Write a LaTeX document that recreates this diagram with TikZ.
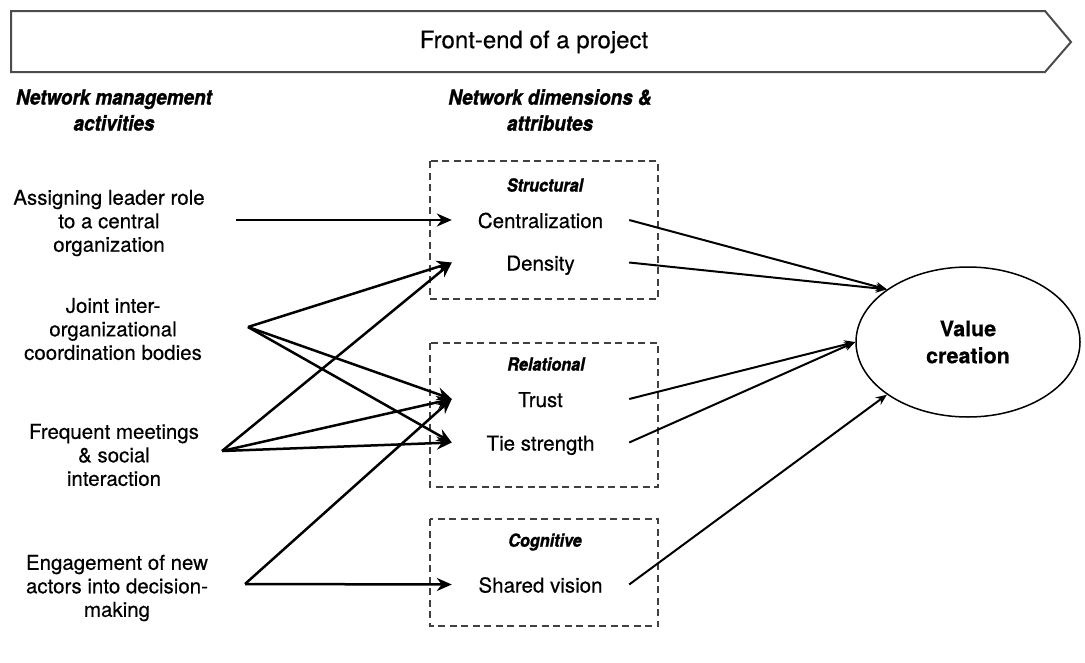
\documentclass[tikz,border=0pt]{standalone}
\usepackage{fontspec}
\setmainfont[FakeBold=0.4]{TeX Gyre Heros}
\newfontfamily\hdrfont[FakeStretch=0.9,FakeBold=1.2]{TeX Gyre Heros}
\usetikzlibrary{arrows.meta,shapes.geometric}

\begin{document}
\begin{tikzpicture}[x=1pt,y=-1pt,
  banner/.style={draw=black!70,line width=2pt,line join=miter},
  bannertext/.style={font=\fontsize{24}{28}\selectfont,inner sep=0pt},
  hdr/.style={font=\hdrfont\bfseries\itshape\fontsize{21}{26}\selectfont,inner sep=0pt},
  grp/.style={font=\hdrfont\bfseries\itshape\fontsize{18}{20}\selectfont,inner sep=0pt},
  lbl/.style={align=center,font=\fontsize{20.5}{23.5}\selectfont,inner sep=0pt},
  item/.style={minimum width=177pt,inner sep=0pt,text height=17pt,text depth=1pt,
               font=\fontsize{20.5}{24}\selectfont},
  dashbox/.style={draw=black!75,line width=1.5pt,dash pattern=on 7pt off 4.5pt},
  link/.style={line width=2.5pt,-{Stealth[length=15pt,width=13pt]}},
  outlink/.style={line width=2pt,-{Stealth[length=11pt,width=9pt]}},
  outcome/.style={ellipse,draw,line width=1.5pt,minimum width=224pt,minimum height=150pt,
                  inner sep=0pt,align=center,font=\bfseries\fontsize{21.5}{27}\selectfont}
]
\useasboundingbox (0,0) rectangle (1085,662);

% phase banner
\draw[banner] (11,11) -- (1045,11) -- (1071,42) -- (1045,72) -- (11,72) -- cycle;
\node[bannertext] (phase) at (534,42) {Front-end of a project};

% column headers
\node[hdr,align=center] (hmgmt) at (114,110) {Network management\\activities};
\node[hdr,align=center] (hdims) at (550,110) {Network dimensions \&\\attributes};

% dimension groups
\draw[dashbox] (430,161) rectangle (658,299);
\draw[dashbox] (430,343) rectangle (658,487);
\draw[dashbox] (430,519) rectangle (658,626);
\node[grp] (gstruct) at (545,185) {Structural};
\node[grp] (grel) at (546,364) {Relational};
\node[grp] (gcog) at (545,542) {Cognitive};

% attributes
\node[item] (cent) at (540.5,220) {Centralization};
\node[item] (dens) at (540.5,262.5) {Density};
\node[item] (trust) at (540.5,399) {Trust};
\node[item] (tie) at (540.5,442.5) {Tie strength};
\node[item] (shared) at (540.5,584.5) {Shared vision};

% management activities
\node[lbl] (assign) at (109,223) {Assigning leader role\\to a central\\organization};
\node[lbl] (joint) at (113,329) {Joint inter-\\organizational\\coordination bodies};
\node[lbl] (freq) at (114,455) {Frequent meetings\\\& social\\interaction};
\node[lbl] (engage) at (117,588) {Engagement of new\\actors into decision-\\making};

\coordinate (assign-out) at (236,220);
\coordinate (joint-out) at (248,327);
\coordinate (freq-out) at (222,451);
\coordinate (engage-out) at (245,584);

% outcome
\node[outcome] (vc) at (968,342) {Value\\creation};

% activities -> attributes
\draw[link] (assign-out) -- (cent.west);
\draw[link] (joint-out) -- (dens.west);
\draw[link] (joint-out) -- (trust.west);
\draw[link] (joint-out) -- (tie.west);
\draw[link] (freq-out) -- (dens.west);
\draw[link] (freq-out) -- (trust.west);
\draw[link] (freq-out) -- (tie.west);
\draw[link] (engage-out) -- (trust.west);
\draw[link] (engage-out) -- (shared.west);

% attributes -> value creation
\draw[outlink] (cent.east) -- (vc.147);
\draw[outlink] (dens.east) -- (vc.147);
\draw[outlink] (trust.east) -- (vc.180);
\draw[outlink] (tie.east) -- (vc.180);
\draw[outlink] (shared.east) -- (vc.213);
\end{tikzpicture}
\end{document}
